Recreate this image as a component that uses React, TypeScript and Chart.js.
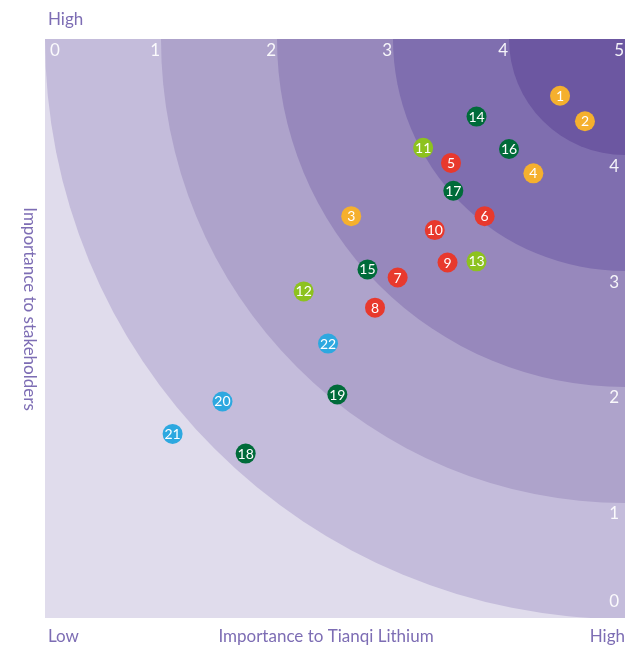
import React, { useEffect, useRef } from "react";
import { Chart, registerables } from "chart.js";

Chart.register(...registerables);

// ---- data ----
const pointIds = [1, 2, 3, 4, 5, 6, 7, 8, 9, 10, 11, 12, 13, 14, 15, 16, 17, 18, 19, 20, 21, 22];
const companyImportance = [4.44, 4.655, 2.64, 4.21, 3.5, 3.79, 3.04, 2.845, 3.47, 3.36, 3.26, 2.23, 3.72, 3.72, 2.78, 4.0, 3.52, 1.73, 2.52, 1.53, 1.1, 2.44];
const stakeholderImportance = [4.51, 4.29, 3.47, 3.84, 3.93, 3.47, 2.94, 2.68, 3.07, 3.35, 4.06, 2.82, 3.08, 4.33, 3.01, 4.05, 3.69, 1.42, 1.93, 1.87, 1.59, 2.37];
const pointGroups = [0, 0, 0, 0, 1, 1, 1, 1, 1, 1, 2, 2, 2, 3, 3, 3, 3, 3, 3, 4, 4, 4];
const groupColors = ["#F5B02E", "#E8392D", "#8DC21F", "#006B3A", "#2DA8E0"];
const tickValues = [0, 1, 2, 3, 4, 5];
const ringRadii = [5, 4, 3, 2, 1];
const ringColors = ["#C4BCDB", "#AEA3CB", "#9788BC", "#7F6EAF", "#6C57A1"];
const outerColor = "#E0DCEC";
const xTitle = "Importance to Tianqi Lithium";
const yTitle = "Importance to stakeholders";
const lowLabel = "Low";
const highLabel = "High";

const FONT = "Lato, 'Open Sans', sans-serif";
const TITLE_COLOR = "#7D6DB4";

const ringsPlugin = {
  id: "rings",
  beforeDatasetsDraw(chart: any) {
    const { ctx, chartArea: a, scales } = chart;
    const xs = scales.x;
    const ys = scales.y;
    const cx = xs.getPixelForValue(5);
    const cy = ys.getPixelForValue(5);
    const unit = Math.abs(xs.getPixelForValue(1) - xs.getPixelForValue(0));
    ctx.save();
    ctx.beginPath();
    ctx.rect(a.left, a.top, a.right - a.left, a.bottom - a.top);
    ctx.clip();
    ctx.fillStyle = outerColor;
    ctx.fillRect(a.left, a.top, a.right - a.left, a.bottom - a.top);
    ringRadii.forEach((r, i) => {
      ctx.beginPath();
      ctx.arc(cx, cy, r * unit, 0, Math.PI * 2);
      ctx.fillStyle = ringColors[i];
      ctx.fill();
    });
    ctx.restore();

    // tick labels
    ctx.save();
    ctx.fillStyle = "rgba(255,255,255,0.92)";
    ctx.font = `17px ${FONT}`;
    ctx.textBaseline = "top";
    tickValues.forEach((v) => {
      const px = xs.getPixelForValue(v);
      if (v === 0) {
        ctx.textAlign = "left";
        ctx.fillText(String(v), px + 5, a.top + 3);
      } else {
        ctx.textAlign = "right";
        ctx.fillText(String(v), px - 1, a.top + 3);
      }
    });
    ctx.textAlign = "right";
    tickValues.forEach((v) => {
      if (v === 5) return;
      const py = ys.getPixelForValue(v);
      if (v === 0) {
        ctx.textBaseline = "bottom";
        ctx.fillText(String(v), a.right - 6, py - 8);
      } else {
        ctx.textBaseline = "top";
        ctx.fillText(String(v), a.right - 6, py + 3);
      }
    });
    ctx.restore();
  },
  afterDatasetsDraw(chart: any) {
    const { ctx } = chart;
    ctx.save();
    ctx.fillStyle = "#FFFFFF";
    ctx.font = `14px ${FONT}`;
    ctx.textAlign = "center";
    ctx.textBaseline = "middle";
    chart.data.datasets.forEach((ds: any, di: number) => {
      const meta = chart.getDatasetMeta(di);
      meta.data.forEach((el: any, i: number) => {
        ctx.fillText(String(ds.ids[i]), el.x, el.y + 0.5);
      });
    });
    ctx.restore();
  },
  afterDraw(chart: any) {
    const { ctx, chartArea: a } = chart;
    ctx.save();
    ctx.fillStyle = TITLE_COLOR;
    ctx.font = `17px ${FONT}`;
    ctx.textBaseline = "middle";
    ctx.textAlign = "left";
    ctx.fillText(highLabel, a.left + 3, 20);
    ctx.fillText(lowLabel, a.left + 3, 637);
    ctx.textAlign = "center";
    ctx.fillText(xTitle, 326, 637);
    ctx.textAlign = "right";
    ctx.fillText(highLabel, a.right, 637);
    ctx.translate(29, 309);
    ctx.rotate(Math.PI / 2);
    ctx.textAlign = "center";
    ctx.fillText(yTitle, 0, 0);
    ctx.restore();
  },
};

export default function App() {
  const ref = useRef<HTMLCanvasElement>(null);
  useEffect(() => {
    document.body.style.margin = "0";
    const datasets = groupColors.map((color, g) => {
      const idx = pointIds.map((_, i) => i).filter((i) => pointGroups[i] === g);
      return {
        label: `group ${g + 1}`,
        ids: idx.map((i) => pointIds[i]),
        data: idx.map((i) => ({ x: companyImportance[i], y: stakeholderImportance[i] })),
        backgroundColor: color,
        borderWidth: 0,
        pointRadius: 10,
        pointHoverRadius: 10,
      };
    });
    const chart = new Chart(ref.current as HTMLCanvasElement, {
      type: "scatter",
      data: { datasets: datasets as any },
      options: {
        animation: false,
        responsive: false,
        layout: { autoPadding: false, padding: { left: 45, top: 39, right: 0, bottom: 30 } },
        plugins: { legend: { display: false }, tooltip: { enabled: false } },
        scales: {
          x: { type: "linear", min: 0, max: 5, display: false },
          y: { type: "linear", min: 0, max: 5, display: false },
        },
      },
      plugins: [ringsPlugin],
    });
    return () => chart.destroy();
  }, []);
  return (
    <div style={{ width: 625, height: 648 }}>
      <canvas ref={ref} width={625} height={648} style={{ display: "block" }} />
    </div>
  );
}
